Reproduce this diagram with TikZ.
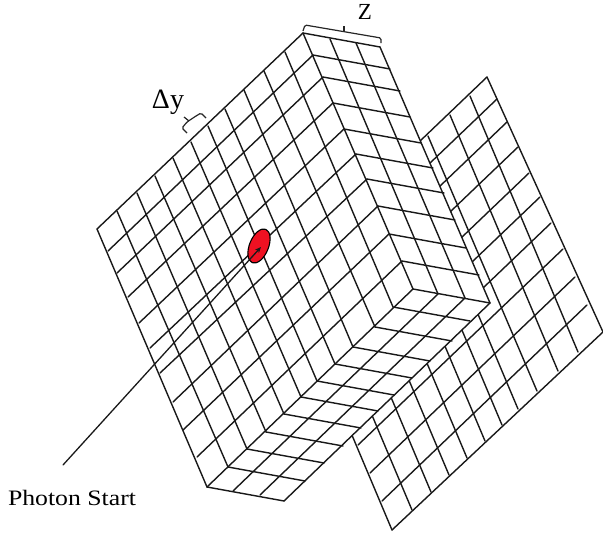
\documentclass[tikz,border=0pt]{standalone}
\usepackage{fontspec}
\setmainfont{Liberation Serif}
\usetikzlibrary{shapes.geometric,arrows.meta}
\definecolor{spotred}{HTML}{EE1122}
\tikzset{
  gridline/.style={line width=1.4pt,black!90,line cap=round},
  bracketline/.style={line width=1.2pt,black!85,rounded corners=1.5pt},
  blockfill/.style={fill=white,draw=none},
  spot/.style={ellipse,draw=black,line width=1.1pt,fill=spotred,minimum width=19pt,minimum height=36pt,inner sep=0pt,rotate=-22},
  photonline/.style={line width=1.3pt,black!90,line cap=round,-{Stealth[length=6pt,width=5pt]}},
  labeltext/.style={inner sep=0pt,text=black}
}
\begin{document}
\begin{tikzpicture}[x=1pt,y=-1pt]
\useasboundingbox (0,0) rectangle (603,533);
% back plate: columns
\foreach \ax/\ay/\bx/\by in {284/274/392/530,304/254/412/510,323/236/431/492,341/219/449/475,359/202/467/458,377/185/485/441,394/169/502/425,410/153/518/409,428/136/537/391,450/115/558/371,470/96/578/352,487/77/603/332}
  \draw[gridline] (\ax,\ay) -- (\bx,\by);
% back plate: rows
\foreach \ax/\ay/\bx/\by in {487/77/282/273,497/99/292/295,507/122/302/318,518/147/313/343,529/173/324/369,540/197/335/393,551/223/346/419,563/249/358/445,575/277/370/473,587/305/382/501,603/332/392/530}
  \draw[gridline] (\ax,\ay) -- (\bx,\by);
% block silhouette hides the plate
\fill[blockfill] (303,33) -- (380,47) -- (490,303) -- (284,501) -- (207,487) -- (97,229) -- cycle;
% front face: long lines
\foreach \ax/\ay/\bx/\by in {97/229/207/487,117/211/228/467,137/193/247/449,155/176/266/432,173/158/284/414,191/142/301/397,208/126/317/381,225/109/335/364,244/90/353/347,264/71/375/327,285/52/393/307,303/33/413/289}
  \draw[gridline] (\ax,\ay) -- (\bx,\by);
% front face: cross lines
\foreach \ax/\ay/\bx/\by in {97/229/303/33,108/251/313/55,117/273/323/77,128/297/333/103,139/323/344/129,150/348/356/154,160/373/367/179,173/402/378/206,183/430/389/234,197/457/402/261,207/487/413/289}
  \draw[gridline] (\ax,\ay) -- (\bx,\by);
% side face: depth lines
\foreach \ax/\ay in {303/33,313/55,323/77,333/103,344/129,356/154,367/179,378/206,389/234,402/261,413/289}
  \draw[gridline] (\ax,\ay) -- ++(77,14);
% side face: long lines
\foreach \ax/\ay/\bx/\by in {330/39/438/294,356/43/465/298,380/47/490/303}
  \draw[gridline] (\ax,\ay) -- (\bx,\by);
% bottom face: depth lines
\foreach \ax/\ay in {228/467,247/449,266/432,284/414,301/397,317/381,335/364,353/347,375/327,393/307,207/487}
  \draw[gridline] (\ax,\ay) -- ++(77,14);
% bottom face: long lines
\foreach \ax/\ay/\bx/\by in {233/491/438/294,260/495/465/298,284/501/490/303}
  \draw[gridline] (\ax,\ay) -- (\bx,\by);
% spot and photon path
\node[spot] (dot) at (259,246) {};
\coordinate (photonstart) at (63,465);
\coordinate (photonend) at (261,247);
\draw[photonline] (photonstart) -- (photonend);
% brackets
\draw[bracketline] (303,31) -- (305,25) -- (381,38) -- (381,43);
\draw[bracketline,rounded corners=0pt] (344,31) -- (344,26);
\draw[bracketline] (187,133) -- (182,128) -- (187,122) -- (196,116) -- (201,113) -- (206,118);
\draw[bracketline,rounded corners=0pt] (189,121) -- (184,117);
% labels
\node[labeltext,font=\fontsize{23}{23}\selectfont] (zlabel) at (365,12) {Z};
\node[labeltext,font=\fontsize{28}{28}\selectfont] (dylabel) at (168,102) {Δy};
\node[labeltext,font=\fontsize{22}{22}\selectfont,xscale=1.17] (photon) at (72,498) {Photon Start};
\end{tikzpicture}
\end{document}
